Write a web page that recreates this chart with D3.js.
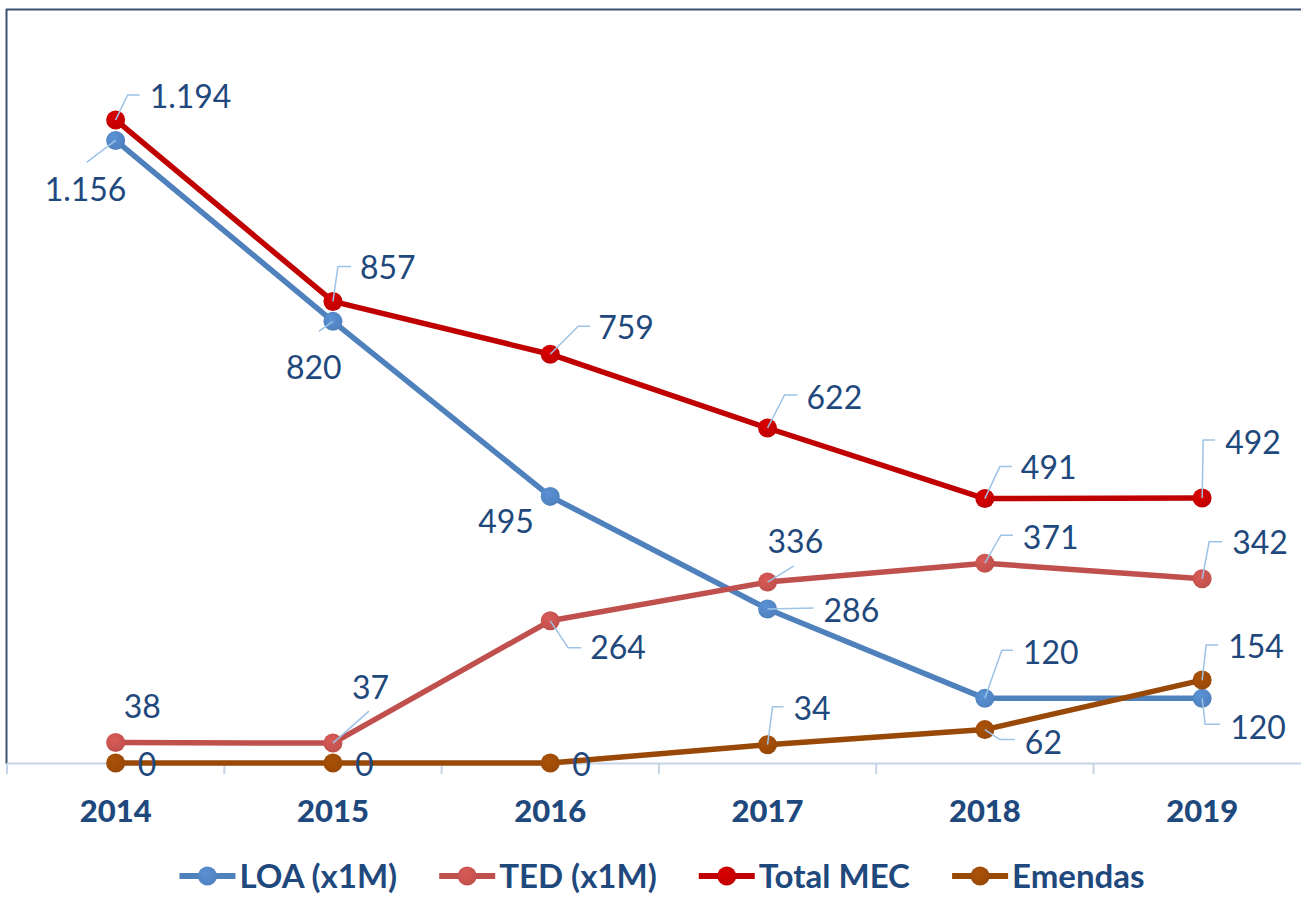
<!DOCTYPE html>
<html>
<head>
<meta charset="utf-8">
<script src="https://cdn.jsdelivr.net/npm/d3@7"></script>
<style>
  html, body { margin: 0; padding: 0; background: #fff; }
  svg { display: block; }
</style>
</head>
<body>
<div id="chart"></div>
<script>
// Data
const years = ["2014", "2015", "2016", "2017", "2018", "2019"];
const loa = [1156, 820, 495, 286, 120, 120];
const ted = [38, 37, 264, 336, 371, 342];
const totalMec = [1194, 857, 759, 622, 491, 492];
const emendas = [0, 0, 0, 34, 62, 154];

const series = [
    { name: "LOA (x1M)", values: loa, color: "#4f81bd" },
    { name: "TED (x1M)", values: ted, color: "#c0504d" },
    { name: "Total MEC", values: totalMec, color: "#c00000" },
    { name: "Emendas", values: emendas, color: "#984807" }
];

// label placement relative to each point: [dx, dy, leader elbows]
const labelPlace = {
    "LOA (x1M)": [[-71, 49, [[-29, 22]]], [-47, 46, [[-14, 10]]], [-72, 25, null],
                  [56, 2, [[46, -1]]], [38, -46, [[17, -48], [28, -48]]], [28, 29, [[3, 26], [18, 26]]]],
    "TED (x1M)": [[8, -36, null], [19, -56, [[36, -32]]], [40, 27, [[18, 27], [31, 27]]],
                  [0, -41, [[26, -16]]], [38, -26, [[16, -28], [28, -28]]], [30, -36, [[7, -37], [20, -37]]]],
    "Total MEC": [[34, -23, [[12, -25], [24, -25]]], [27, -34, [[5, -35], [18, -35]]], [48, -27, [[28, -28], [40, -28]]],
                  [39, -31, [[17, -33], [30, -33]]], [36, -31, [[15, -32], [27, -32]]], [23, -56, [[1, -58], [13, -58]]]],
    "Emendas":   [[22, 1, null], [22, 1, null], [22, 1, null],
                  [26, -36, [[5, -38], [16, -38]]], [40, 13, [[15, 10], [30, 10]]], [26, -34, [[4, -35], [16, -35]]]]
};

const W = 1301, H = 897;
const textColor = "#1f497d";
const font = "Lato, 'Open Sans', sans-serif";

const svg = d3.select("#chart").append("svg")
    .attr("width", W)
    .attr("height", H);

const defs = svg.append("defs");
series.forEach((s, i) => {
    const g = defs.append("radialGradient")
        .attr("id", "mk" + i)
        .attr("cx", "40%").attr("cy", "35%").attr("r", "65%");
    g.append("stop").attr("offset", "0%").attr("stop-color", d3.color(s.color).brighter(0.35));
    g.append("stop").attr("offset", "100%").attr("stop-color", s.color);
});

// scales
const x = d3.scaleBand()
    .domain(years)
    .range([7, 7 + 6 * 217.3])
    .padding(0);
const cx = d => x(d) + x.bandwidth() / 2;

const y = d3.scaleLinear()
    .domain([0, 1400])
    .range([763, 9]);

// frame (top and left border)
svg.append("line")
    .attr("x1", 6).attr("x2", W)
    .attr("y1", 9.5).attr("y2", 9.5)
    .attr("stroke", "#3b5272").attr("stroke-width", 2);
svg.append("line")
    .attr("x1", 6.5).attr("x2", 6.5)
    .attr("y1", 9).attr("y2", 764)
    .attr("stroke", "#3b5272").attr("stroke-width", 2);

// x axis
const xAxis = svg.append("g")
    .attr("transform", `translate(0,${y(0)})`)
    .call(d3.axisBottom(x).tickSize(0).tickPadding(37));
xAxis.select(".domain")
    .attr("stroke", "#c6d4e8").attr("stroke-width", 2);
xAxis.selectAll("text")
    .attr("font-family", font)
    .attr("font-weight", 900)
    .attr("font-size", 31)
    .attr("fill", textColor)
    .attr("dy", "0.71em");
// tick marks at category boundaries
const bounds = years.map(d => x(d)).concat([x(years[years.length - 1]) + x.bandwidth()]);
xAxis.selectAll(".bound")
    .data(bounds)
    .enter().append("line")
    .attr("class", "bound")
    .attr("x1", d => d).attr("x2", d => d)
    .attr("y1", 0).attr("y2", 11)
    .attr("stroke", "#c6d4e8").attr("stroke-width", 2);

// lines
const line = d3.line()
    .x((d, i) => cx(years[i]))
    .y(d => y(d));

const sg = svg.selectAll(".series")
    .data(series)
    .enter().append("g")
    .attr("class", "series");

sg.append("path")
    .attr("d", d => line(d.values))
    .attr("fill", "none")
    .attr("stroke", d => d.color)
    .attr("stroke-width", 5.5)
    .attr("stroke-linejoin", "round");

sg.each(function (s, si) {
    d3.select(this).selectAll("circle")
        .data(s.values)
        .enter().append("circle")
        .attr("cx", (d, i) => cx(years[i]))
        .attr("cy", d => y(d))
        .attr("r", 9.5)
        .attr("fill", `url(#mk${si})`);
});

// data labels
const fmt = d3.formatLocale({ decimal: ",", thousands: ".", grouping: [3], currency: ["", ""] }).format(",d");
const labelSize = 32;

series.forEach(s => {
    const g = svg.append("g");
    s.values.forEach((v, i) => {
        const px = cx(years[i]), py = y(v);
        const [dx, dy, leader] = labelPlace[s.name][i];
        if (leader) {
            const pts = [[px, py]].concat(leader.map(p => [px + p[0], py + p[1]]));
            g.append("path")
                .attr("d", d3.line()(pts))
                .attr("fill", "none")
                .attr("stroke", "#9dc3e6")
                .attr("stroke-width", 1.5);
        }
        g.append("text")
            .attr("x", px + dx)
            .attr("y", py + dy + labelSize * 0.36)
            .attr("font-family", font)
            .attr("font-size", labelSize)
            .attr("fill", textColor)
            .text(fmt(v));
    });
});

// legend
const legendSize = 33;
const legend = svg.append("g").attr("transform", "translate(0,876)");
const items = legend.selectAll(".item")
    .data(series)
    .enter().append("g")
    .attr("class", "item");

items.append("line")
    .attr("x1", 0).attr("x2", 56)
    .attr("stroke", d => d.color)
    .attr("stroke-width", 6);
items.append("circle")
    .attr("cx", 28).attr("r", 9.5)
    .attr("fill", (d, i) => `url(#mk${i})`);
items.append("text")
    .attr("x", 60)
    .attr("y", legendSize * 0.36)
    .attr("font-family", font)
    .attr("font-weight", "bold")
    .attr("font-size", legendSize)
    .attr("fill", textColor)
    .text(d => d.name);

const widths = [];
items.each(function () { widths.push(this.getBBox().width); });
const gap = 42;
const total = d3.sum(widths) + gap * (widths.length - 1);
let pos = 662 - total / 2;
items.attr("transform", (d, i) => {
    const t = `translate(${pos},0)`;
    pos += widths[i] + gap;
    return t;
});
</script>
</body>
</html>
